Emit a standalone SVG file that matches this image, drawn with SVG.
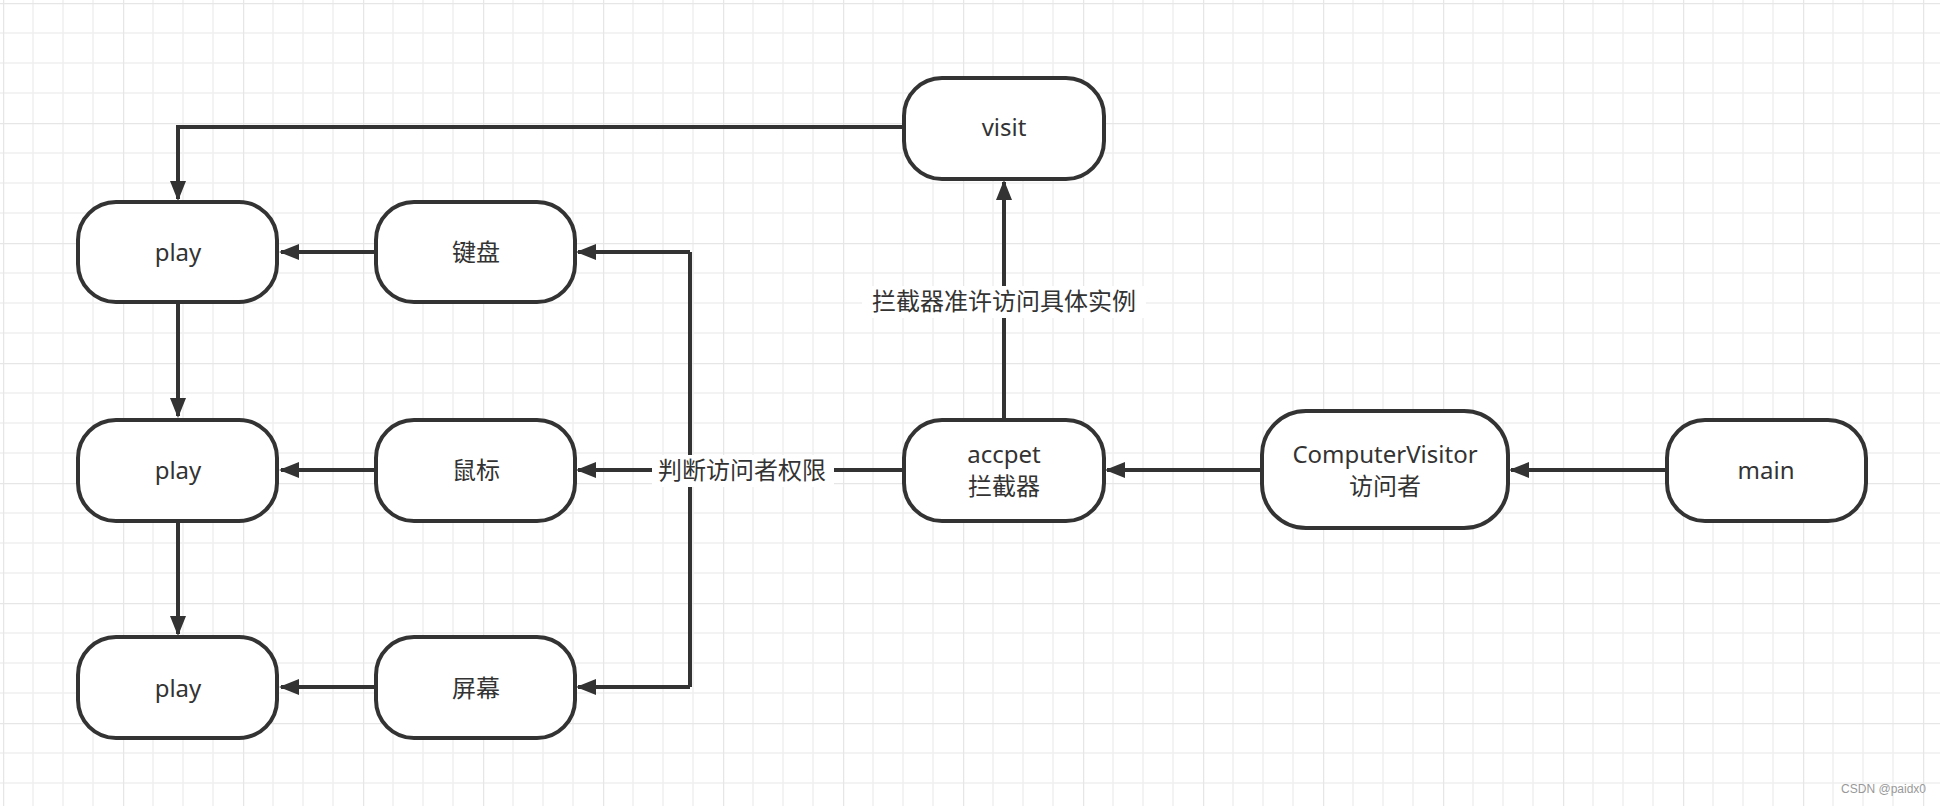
<svg xmlns="http://www.w3.org/2000/svg" width="1940" height="806" viewBox="0 0 1940 806">
<defs>
<pattern id="g" width="120" height="120" patternUnits="userSpaceOnUse" x="3" y="3">
<path d="M30 0V120M60 0V120M90 0V120M0 30H120M0 60H120M0 90H120" stroke="#f0f0f0" stroke-width="1.5" fill="none"/>
<path d="M0 0V120M0 0H120" stroke="#e6e6e6" stroke-width="2.5" fill="none"/>
</pattern>
<marker id="a" viewBox="0 0 10 10" refX="9" refY="5" markerWidth="5" markerHeight="5" orient="auto" markerUnits="strokeWidth"><path d="M0 1L10 5L0 9z" fill="#333"/></marker>
<style>
.n{fill:#fff;stroke:#333;stroke-width:4}
.t{font-family:"Noto Sans","Noto Sans CJK SC",sans-serif;font-size:24px;fill:#333;text-anchor:middle}
.c{stroke:#333;stroke-width:4;fill:none}
</style>
</defs>
<rect width="1940" height="806" fill="#fff"/>
<rect width="1940" height="806" fill="url(#g)"/>
<g id="connectors">
<path class="c" d="M904 127H178V199" marker-end="url(#a)"/>
<path class="c" d="M376 252H281" marker-end="url(#a)"/>
<path class="c" d="M178 302V416" marker-end="url(#a)"/>
<path class="c" d="M178 521V634" marker-end="url(#a)"/>
<path class="c" d="M376 470H281" marker-end="url(#a)"/>
<path class="c" d="M376 687H281" marker-end="url(#a)"/>
<path class="c" d="M904 470H578" marker-end="url(#a)"/>
<path class="c" d="M690 252V687"/>
<path class="c" d="M690 252H578" marker-end="url(#a)"/>
<path class="c" d="M690 687H578" marker-end="url(#a)"/>
<path class="c" d="M1004 419V182" marker-end="url(#a)"/>
<path class="c" d="M1262 470H1107" marker-end="url(#a)"/>
<path class="c" d="M1667 470H1511" marker-end="url(#a)"/>
<rect x="652" y="455" width="182" height="32" fill="#fff"/>
<text class="t" x="742" y="479">判断访问者权限</text>
<rect x="862" y="286" width="284" height="32" fill="#fff"/>
<text class="t" x="1004" y="310">拦截器准许访问具体实例</text>
</g>
<g id="visit"><rect class="n" x="904" y="78" width="200" height="101" rx="38"/><text class="t" x="1004" y="136">visit</text></g>
<g id="play1"><rect class="n" x="78" y="202" width="199" height="100" rx="38"/><text class="t" x="178" y="261">play</text></g>
<g id="keyboard"><rect class="n" x="376" y="202" width="199" height="100" rx="38"/><text class="t" x="476" y="261">键盘</text></g>
<g id="play2"><rect class="n" x="78" y="420" width="199" height="101" rx="38"/><text class="t" x="178" y="479">play</text></g>
<g id="mouse"><rect class="n" x="376" y="420" width="199" height="101" rx="38"/><text class="t" x="476" y="479">鼠标</text></g>
<g id="play3"><rect class="n" x="78" y="637" width="199" height="101" rx="38"/><text class="t" x="178" y="697">play</text></g>
<g id="screen"><rect class="n" x="376" y="637" width="199" height="101" rx="38"/><text class="t" x="476" y="697">屏幕</text></g>
<g id="accpet"><rect class="n" x="904" y="420" width="200" height="101" rx="38"/><text class="t" x="1004" y="463">accpet</text><text class="t" x="1004" y="495">拦截器</text></g>
<g id="visitor"><rect class="n" x="1262" y="411" width="246" height="117" rx="44"/><text class="t" x="1385" y="463">ComputerVisitor</text><text class="t" x="1385" y="495">访问者</text></g>
<g id="main"><rect class="n" x="1667" y="420" width="199" height="101" rx="38"/><text class="t" x="1766" y="479">main</text></g>
<text x="1926" y="793" font-family="Liberation Sans,sans-serif" font-size="12" fill="#999" text-anchor="end">CSDN @paidx0</text>
</svg>
